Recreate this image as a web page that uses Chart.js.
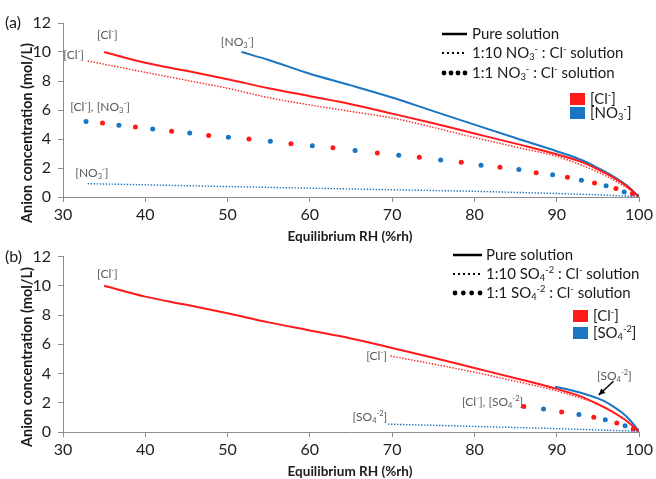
<!DOCTYPE html>
<html>
<head>
<meta charset="utf-8">
<script src="https://cdn.jsdelivr.net/npm/chart.js@4.4.1/dist/chart.umd.min.js"></script>
<style>
  html, body { margin: 0; padding: 0; background: #fff; }
  #wrap { position: relative; width: 656px; height: 479px; }
  canvas { position: absolute; left: 0; }
</style>
</head>
<body>
<div id="wrap">
  <canvas id="chartA" width="656" height="252" style="top:0"></canvas>
  <canvas id="chartB" width="656" height="239" style="top:240px"></canvas>
</div>
<script>
// ---- data (RH in %rh, concentration in mol/L) ----
var clPureRH   = [35, 40, 45, 50, 55, 60, 65, 70, 75, 80, 85, 90, 93, 95, 97, 98.5, 100];
var clPureConc = [10.0, 9.26, 8.7, 8.12, 7.5, 6.95, 6.4, 5.75, 5.08, 4.38, 3.68, 2.95, 2.42, 1.9, 1.3, 0.75, 0];

var no3PureRH   = [51.7, 55, 60, 65, 70, 75, 80, 85, 90, 93, 95, 97, 98.5, 100];
var no3PureConc = [10.0, 9.45, 8.5, 7.7, 6.86, 5.92, 4.99, 4.07, 3.16, 2.55, 2.0, 1.38, 0.8, 0];

var clNo3MixRH   = [33, 40, 45, 50, 55, 60, 65, 70, 75, 80, 85, 90, 93, 95, 97, 99, 100];
var clNo3MixConc = [9.38, 8.6, 8.05, 7.5, 6.85, 6.35, 5.9, 5.45, 4.8, 4.1, 3.45, 2.8, 2.2, 1.72, 1.15, 0.45, 0];

var no3MixRH   = [33, 40, 50, 60, 70, 80, 90, 95, 100];
var no3MixConc = [0.92, 0.84, 0.72, 0.61, 0.5, 0.39, 0.24, 0.15, 0.03];

var no3EqBlueRH   = [32.8, 36.8, 40.9, 45.4, 50.1, 55.2, 60.3, 65.5, 70.8, 75.9, 80.8, 85.4, 89.5, 93.0, 96.0, 98.2, 100];
var no3EqBlueConc = [5.21, 4.94, 4.69, 4.42, 4.12, 3.84, 3.53, 3.2, 2.88, 2.56, 2.19, 1.9, 1.53, 1.15, 0.78, 0.34, 0.05];
var no3EqRedRH    = [34.8, 38.8, 43.2, 47.7, 52.6, 57.7, 62.8, 68.2, 73.3, 78.4, 83.1, 87.5, 91.3, 94.6, 97.2, 99.2];
var no3EqRedConc  = [5.1, 4.83, 4.53, 4.25, 4.0, 3.68, 3.39, 3.04, 2.74, 2.4, 2.06, 1.67, 1.37, 0.96, 0.58, 0.23];

var so4PureRH   = [89.8, 92, 94, 95, 96, 97, 98, 99, 100];
var so4PureConc = [3.1, 2.82, 2.5, 2.3, 2.05, 1.7, 1.3, 0.75, 0.05];

var clSo4MixRH   = [69.8, 75, 80, 85, 90, 93, 95, 97, 99, 100];
var clSo4MixConc = [5.2, 4.65, 4.09, 3.47, 2.81, 2.3, 1.91, 1.35, 0.55, 0.05];

var so4MixRH   = [69.5, 80, 90, 95, 100];
var so4MixConc = [0.54, 0.38, 0.23, 0.14, 0.05];

var so4EqRedRH    = [86.0, 90.6, 94.5, 97.3, 99.3];
var so4EqRedConc  = [1.75, 1.37, 1.01, 0.61, 0.2];
var so4EqBlueRH   = [88.4, 92.7, 95.9, 98.3, 100];
var so4EqBlueConc = [1.57, 1.19, 0.83, 0.43, 0.07];

var xTicks = [30, 40, 50, 60, 70, 80, 90, 100];
var yTicks = [0, 2, 4, 6, 8, 10, 12];

var RED = '#ff1a1a';
var BLUE = '#1a75c2';
var FONT = 'Lato, "Open Sans", sans-serif';

function pts(xs, ys) {
    return xs.map(function (x, i) { return { x: x, y: ys[i] }; });
}

function solid(xs, ys, color) {
    return { data: pts(xs, ys), showLine: true, borderColor: color, borderWidth: 2,
             pointRadius: 0, cubicInterpolationMode: 'monotone' };
}
function dotted(xs, ys, color) {
    return { data: pts(xs, ys), showLine: true, borderColor: color, borderWidth: 1.4,
             borderDash: [1.4, 1.6], pointRadius: 0, cubicInterpolationMode: 'monotone' };
}
function dots(xs, ys, color) {
    return { data: pts(xs, ys), showLine: false, pointRadius: 2.5, pointBorderWidth: 0,
             pointBackgroundColor: color, pointBorderColor: color };
}

// text with _x subscripts and ^x / ^{..} superscripts
function parse(text) {
    var out = [];
    var re = /(\^\{[^}]*\}|_\{[^}]*\}|\^.|_.|[^\^_]+)/g, m;
    while ((m = re.exec(text))) {
        var s = m[0];
        if (s[0] === '^' || s[0] === '_') {
            var t = s[1] === '{' ? s.slice(2, -1) : s.slice(1);
            out.push({ t: t, k: s[0] === '^' ? 'sup' : 'sub' });
        } else out.push({ t: s, k: null });
    }
    return out;
}
function richWidth(ctx, text, size, bold) {
    var w = 0;
    parse(text).forEach(function (p) {
        ctx.font = (bold ? 'bold ' : '') + (p.k ? size * 0.62 : size) + 'px ' + FONT;
        w += ctx.measureText(p.t).width;
    });
    return w;
}
function drawRich(ctx, text, x, y, size, color, align, bold) {
    var w = richWidth(ctx, text, size, bold);
    var cx = align === 'center' ? x - w / 2 : (align === 'right' ? x - w : x);
    ctx.fillStyle = color;
    ctx.textBaseline = 'middle';
    ctx.textAlign = 'left';
    parse(text).forEach(function (p) {
        var sz = p.k ? size * 0.62 : size;
        ctx.font = (bold ? 'bold ' : '') + sz + 'px ' + FONT;
        var dy = p.k === 'sup' ? -size * 0.3 : (p.k === 'sub' ? size * 0.25 : 0);
        ctx.fillText(p.t, cx, y + dy);
        cx += ctx.measureText(p.t).width;
    });
}
// font size that makes a text span a given width
function fitSize(ctx, text, width, bold) {
    return 14 * width / richWidth(ctx, text, 14, bold);
}

function makeScales(xAxisHeight) {
    return {
        x: {
            type: 'linear', min: 30, max: 100,
            afterBuildTicks: function (s) { s.ticks = xTicks.map(function (v) { return { value: v }; }); },
            ticks: { padding: 3, color: '#1f1f1f', font: { family: FONT, size: 16 } },
            grid: { drawOnChartArea: false, tickLength: 5, color: '#8c8c8c' },
            border: { color: '#8c8c8c' },
            afterFit: function (s) { s.height = xAxisHeight; }
        },
        y: {
            type: 'linear', min: 0, max: 12,
            afterBuildTicks: function (s) { s.ticks = yTicks.map(function (v) { return { value: v }; }); },
            ticks: { padding: 7, color: '#1f1f1f', font: { family: FONT, size: 16 } },
            grid: { drawOnChartArea: false, tickLength: 5, color: '#8c8c8c' },
            border: { color: '#8c8c8c' },
            afterFit: function (s) { s.width = 63; }
        }
    };
}

function decoPlugin(cfg) {
    return {
        id: 'deco',
        afterDraw: function (chart) {
            var ctx = chart.ctx, xs = chart.scales.x, ys = chart.scales.y;
            ctx.save();
            // panel letter
            drawRich(ctx, cfg.panel, 5, cfg.panelY, 16, '#1a1a1a', 'left');
            // axis titles
            var xt = 'Equilibrium RH (%rh)', yt = 'Anion concentration (mol/L)';
            drawRich(ctx, xt, 350, cfg.xTitleY, fitSize(ctx, xt, 125, true), '#1a1a1a', 'center', true);
            ctx.save();
            ctx.translate(27, cfg.yTitleY);
            ctx.rotate(-Math.PI / 2);
            drawRich(ctx, yt, 0, 0, fitSize(ctx, yt, 180, true), '#1a1a1a', 'center', true);
            ctx.restore();

            // legend: line styles
            var L = cfg.legend;
            ctx.strokeStyle = '#000';
            ctx.lineWidth = 2.5;
            ctx.beginPath(); ctx.moveTo(L.x0, L.ys[0]); ctx.lineTo(L.x1, L.ys[0]); ctx.stroke();
            ctx.setLineDash([2, 3]);
            ctx.lineWidth = 2;
            ctx.beginPath(); ctx.moveTo(L.x0, L.ys[1]); ctx.lineTo(L.x1, L.ys[1]); ctx.stroke();
            ctx.setLineDash([]);
            ctx.fillStyle = '#000';
            for (var i = 0; i < 4; i++) {
                ctx.beginPath();
                ctx.arc(L.x0 + 2 + i * (L.x1 - L.x0 - 4) / 3, L.ys[2], 2.4, 0, Math.PI * 2);
                ctx.fill();
            }
            L.texts.forEach(function (t, j) { drawRich(ctx, t, L.tx, L.ys[j], 15, '#1a1a1a', 'left'); });
            // legend: colour squares
            var S = cfg.squares;
            ctx.fillStyle = RED;  ctx.fillRect(S.x, S.ys[0] - 6, 15, 12);
            ctx.fillStyle = BLUE; ctx.fillRect(S.x, S.ys[1] - 6, 15, 12);
            drawRich(ctx, '[Cl^-]', S.x + 20, S.ys[0], 15, '#1a1a1a', 'left');
            drawRich(ctx, S.second, S.x + 20, S.ys[1], 15, '#1a1a1a', 'left');

            // curve labels, anchored in data units
            cfg.labels.forEach(function (l) {
                drawRich(ctx, l[0], xs.getPixelForValue(l[1]), ys.getPixelForValue(l[2]), 12, '#595959', 'center');
            });
            if (cfg.arrow) {
                var a = cfg.arrow;
                var x0 = xs.getPixelForValue(a[0]), y0 = ys.getPixelForValue(a[1]);
                var x1 = xs.getPixelForValue(a[2]), y1 = ys.getPixelForValue(a[3]);
                ctx.strokeStyle = '#000'; ctx.fillStyle = '#000'; ctx.lineWidth = 1.5;
                ctx.beginPath(); ctx.moveTo(x0, y0); ctx.lineTo(x1, y1); ctx.stroke();
                var ang = Math.atan2(y1 - y0, x1 - x0);
                ctx.beginPath();
                ctx.moveTo(x1, y1);
                ctx.lineTo(x1 - 7 * Math.cos(ang - 0.45), y1 - 7 * Math.sin(ang - 0.45));
                ctx.lineTo(x1 - 7 * Math.cos(ang + 0.45), y1 - 7 * Math.sin(ang + 0.45));
                ctx.closePath(); ctx.fill();
            }
            ctx.restore();
        }
    };
}

function baseOptions(padTop, xAxisHeight) {
    return {
        responsive: false,
        animation: false,
        layout: { padding: { top: padTop, right: 17, left: 0, bottom: 0 } },
        plugins: { legend: { display: false }, tooltip: { enabled: false } },
        scales: makeScales(xAxisHeight)
    };
}

// panel (a): NO3- / Cl-  (canvas is a bit taller so its x title can overlap panel b)
new Chart(document.getElementById('chartA'), {
    type: 'scatter',
    data: {
        datasets: [
            dotted(no3MixRH, no3MixConc, BLUE),
            dotted(clNo3MixRH, clNo3MixConc, RED),
            solid(clPureRH, clPureConc, RED),
            solid(no3PureRH, no3PureConc, BLUE),
            dots(no3EqRedRH, no3EqRedConc, RED),
            dots(no3EqBlueRH, no3EqBlueConc, BLUE)
        ]
    },
    options: baseOptions(23, 55),
    plugins: [decoPlugin({
        panel: '(a)', panelY: 23, xTitleY: 237, yTitleY: 133,
        legend: { x0: 442, x1: 467, tx: 472, ys: [34, 53, 73],
                  texts: ['Pure solution', '1:10 NO_3^- : Cl^- solution', '1:1 NO_3^- : Cl^- solution'] },
        squares: { x: 570, ys: [99, 113], second: '[NO_3^-]' },
        labels: [
            ['[Cl^-]', 35.4, 11.15],
            ['[Cl^-]', 31.3, 9.8],
            ['[NO_3^-]', 51.2, 10.65],
            ['[Cl^-], [NO_3^-]', 34.5, 6.17],
            ['[NO_3^-]', 33.5, 1.62]
        ]
    })]
});

// panel (b): SO4-2 / Cl-
new Chart(document.getElementById('chartB'), {
    type: 'scatter',
    data: {
        datasets: [
            dotted(so4MixRH, so4MixConc, BLUE),
            dotted(clSo4MixRH, clSo4MixConc, RED),
            solid(clPureRH, clPureConc, RED),
            solid(so4PureRH, so4PureConc, BLUE),
            dots(so4EqRedRH, so4EqRedConc, RED),
            dots(so4EqBlueRH, so4EqBlueConc, BLUE)
        ]
    },
    options: baseOptions(13, 47),
    plugins: [decoPlugin({
        panel: '(b)', panelY: 17, xTitleY: 232, yTitleY: 117,
        legend: { x0: 453, x1: 482, tx: 486, ys: [15, 34, 53],
                  texts: ['Pure solution', '1:10 SO_4^{-2} : Cl^- solution', '1:1 SO_4^{-2} : Cl^- solution'] },
        squares: { x: 573, ys: [76, 93], second: '[SO_4^{-2}]' },
        labels: [
            ['[Cl^-]', 35.4, 10.77],
            ['[Cl^-]', 68.1, 5.16],
            ['[Cl^-], [SO_4^{-2}]', 82.2, 2.02],
            ['[SO_4^{-2}]', 67.3, 1.01],
            ['[SO_4^{-2}]', 97.0, 3.82]
        ],
        arrow: [96.9, 3.47, 95.1, 2.53]
    })]
});
</script>
</body>
</html>
